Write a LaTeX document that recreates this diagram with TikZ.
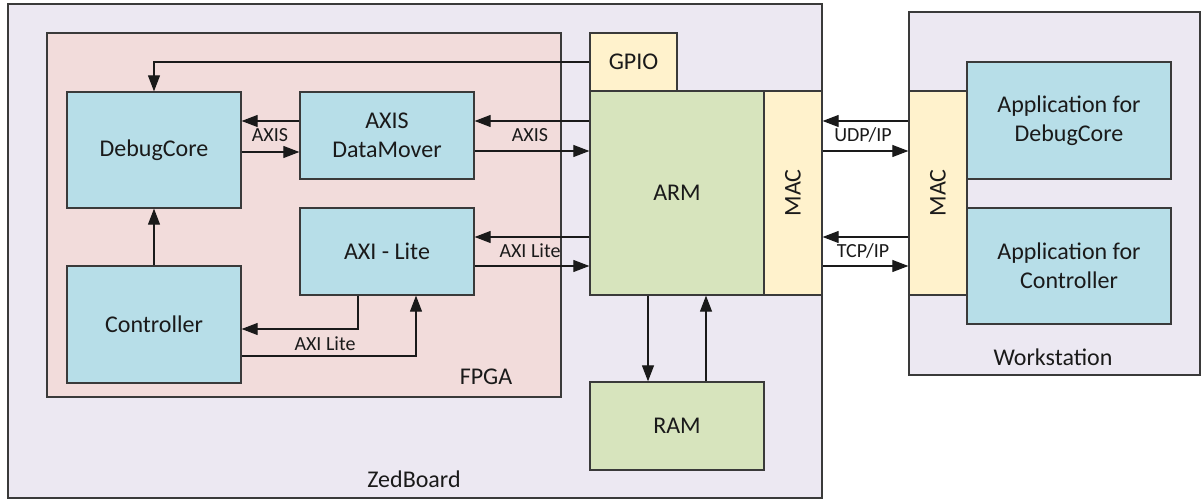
\documentclass[tikz,border=0pt]{standalone}
\usepackage{fontspec}
\setmainfont{Carlito}
\usetikzlibrary{arrows.meta}
\definecolor{lav}{HTML}{ECE8F2}
\definecolor{pinkf}{HTML}{F2DCDB}
\definecolor{blueb}{HTML}{B7DEE8}
\definecolor{greenb}{HTML}{D7E4BD}
\definecolor{yelb}{HTML}{FFF2CC}
\definecolor{edge}{HTML}{3A3A3A}
\definecolor{ink}{HTML}{1A1A1A}
\tikzset{
  box/.style={draw=edge, line width=1.3pt, inner sep=0pt, text=ink,
    font=\fontsize{24}{29.5}\selectfont, align=center},
  bluebox/.style={box, fill=blueb},
  greenbox/.style={box, fill=greenb},
  yelbox/.style={box, fill=yelb},
  lbl/.style={text=ink, font=\fontsize{24}{29}\selectfont, inner sep=0pt},
  slbl/.style={text=ink, font=\fontsize{20}{24}\selectfont, inner sep=0pt},
  arr/.style={draw=ink, line width=1.1pt, -{Triangle[length=16pt,width=12pt]}},
}
\begin{document}
\begin{tikzpicture}[x=1pt,y=-1pt]
\useasboundingbox (0,0) rectangle (1203,502);
\fill[white] (0,0) rectangle (1203,502);
% containers
\node[box, fill=lav, minimum width=814pt, minimum height=494pt] (zed) at (415,251) {};
\node[box, fill=lav, minimum width=291pt, minimum height=363pt] (ws) at (1054.5,193.5) {};
\node[box, fill=pinkf, minimum width=514pt, minimum height=364pt] (fpga) at (304,215) {};
\node[lbl] (zedl) at (414,479) {ZedBoard};
\node[lbl] (wsl) at (1053,357) {Workstation};
\node[lbl] (fpgal) at (486,377) {FPGA};
% FPGA blocks
\node[bluebox, minimum width=174pt, minimum height=116pt] (debug) at (154,150) {DebugCore};
\node[bluebox, minimum width=174pt, minimum height=87pt] (dm) at (387,135.5) {AXIS\\DataMover};
\node[bluebox, minimum width=174pt, minimum height=87pt] (axil) at (387,251.5) {AXI - Lite};
\node[bluebox, minimum width=174pt, minimum height=117pt] (ctrl) at (154,324.5) {Controller};
% PS side
\node[yelbox, minimum width=87pt, minimum height=58pt] (gpio) at (633.5,62) {GPIO};
\node[greenbox, minimum width=174pt, minimum height=204pt] (arm) at (677,193) {ARM};
\node[yelbox, minimum width=58pt, minimum height=204pt] (mac1) at (793,193) {};
\node[lbl, rotate=90] (mac1l) at (mac1.center) {MAC};
\node[greenbox, minimum width=174pt, minimum height=88pt] (ram) at (677,426) {RAM};
% workstation
\node[yelbox, minimum width=58pt, minimum height=204pt] (mac2) at (938,193) {};
\node[lbl, rotate=90] (mac2l) at (mac2.center) {MAC};
\node[bluebox, minimum width=204pt, minimum height=117pt] (app1) at (1069,120.5) {Application for\\DebugCore};
\node[bluebox, minimum width=204pt, minimum height=116pt] (app2) at (1069,266) {Application for\\Controller};
% connectors
\draw[arr] (gpio.west) -| (debug.north);
\draw[arr] (ctrl.north) -- (debug.south);
\draw[arr] (dm.west |- 0,121) -- (debug.east |- 0,121);
\draw[arr] (debug.east |- 0,152) -- (dm.west |- 0,152);
\node[slbl] (l1) at (270,135) {AXIS};
\draw[arr] (arm.west |- 0,121) -- (dm.east |- 0,121);
\draw[arr] (dm.east |- 0,151) -- (arm.west |- 0,151);
\node[slbl] (l2) at (530,135) {AXIS};
\draw[arr] (arm.west |- 0,237) -- (axil.east |- 0,237);
\draw[arr] (axil.east |- 0,266) -- (arm.west |- 0,266);
\node[slbl] (l3) at (530,251) {AXI Lite};
\draw[arr] (axil.south -| 358,0) |- (ctrl.east |- 0,329);
\draw[arr] (ctrl.east |- 0,356) -| (axil.south -| 416,0);
\node[slbl] (l4) at (325,344) {AXI Lite};
\draw[arr] (arm.south -| 648,0) -- (ram.north -| 648,0);
\draw[arr] (ram.north -| 706,0) -- (arm.south -| 706,0);
\draw[arr] (mac2.west |- 0,121) -- (mac1.east |- 0,121);
\draw[arr] (mac1.east |- 0,151) -- (mac2.west |- 0,151);
\node[slbl] (l5) at (863,135) {UDP/IP};
\draw[arr] (mac2.west |- 0,237) -- (mac1.east |- 0,237);
\draw[arr] (mac1.east |- 0,266) -- (mac2.west |- 0,266);
\node[slbl] (l6) at (863,251) {TCP/IP};
\end{tikzpicture}
\end{document}
